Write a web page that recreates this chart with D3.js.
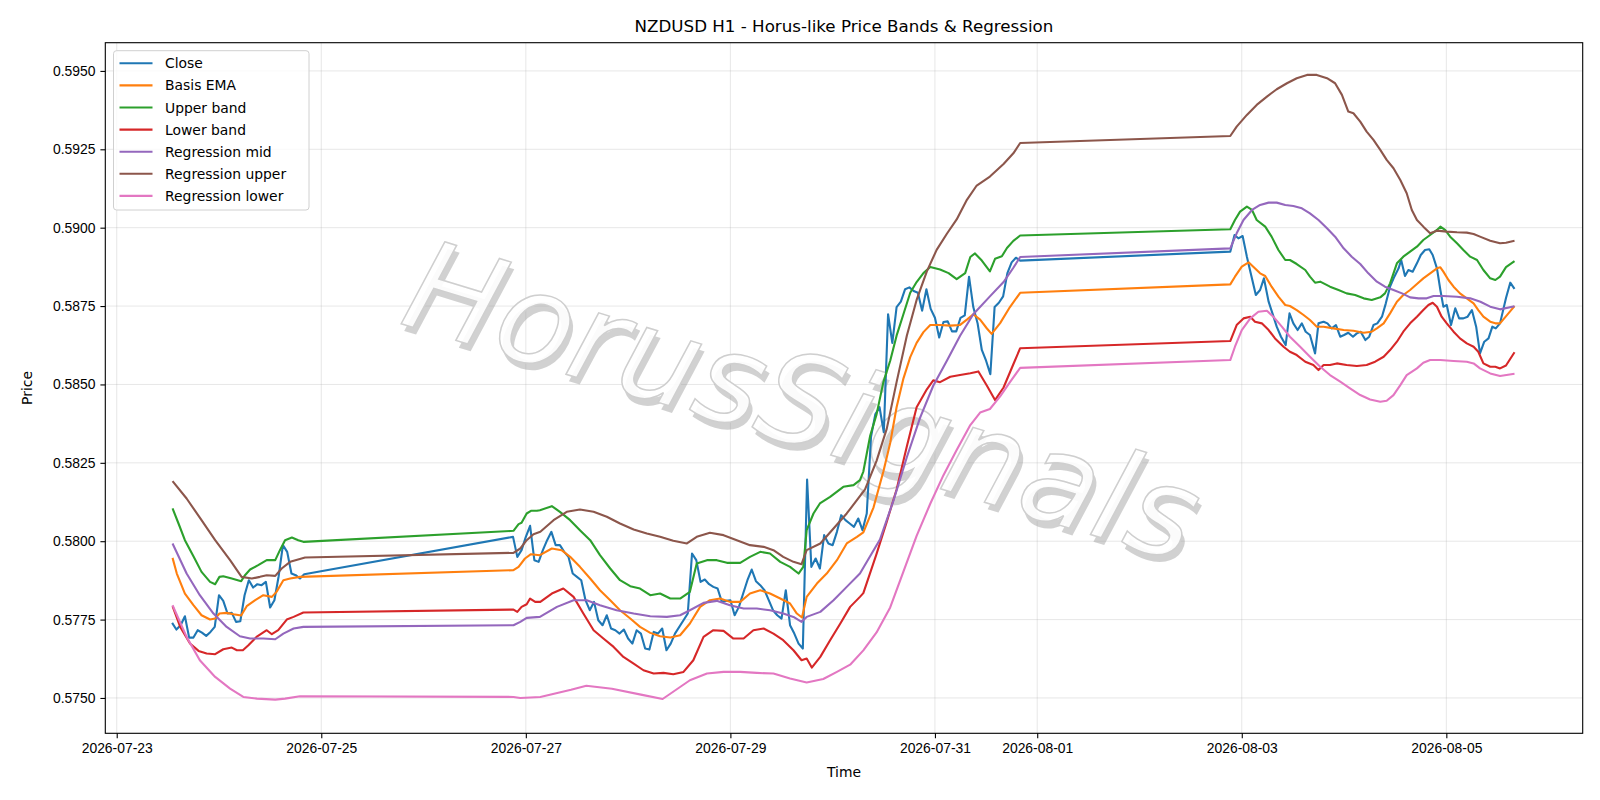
<!DOCTYPE html>
<html>
<head>
<meta charset="utf-8">
<script src="https://cdn.jsdelivr.net/npm/d3@7"></script>
<style>
  body { margin: 0; background: #fff; }
  svg { font-family: 'DejaVu Sans', sans-serif; }
  .tick text { font-size: 13.9px; fill: #000; }
</style>
</head>
<body>
<svg id="chart" width="1600" height="800"></svg>
<script>
// hours since 2026-07-23 00:00 UTC, price
const closeData = [
  [13,.577394],[14,.577182],[15,.577320],[16,.577607],[17,.576926],[18,.576926],[19,.577161],[20,.577086],
  [21,.576980],[22,.577107],[23,.577267],[24,.578277],[25,.578097],[26,.577693],[27,.577714],[28,.577427],
  [29,.577448],[30,.578277],[31,.578756],[32,.578522],[33,.578629],[34,.578597],[35,.578703],[36,.577884],
  [37,.578118],[38,.578884],[39,.579873],[40,.579661],[41,.578969],[42,.578916],[43,.578810],[44,.578948],
  [93,.580139],[94,.579501],[95,.579714],[96,.580139],[97,.580490],[98,.579395],[99,.579341],[100,.579714],
  [101,.580033],[102,.580299],[103,.579874],[104,.579874],[105,.579661],[106,.579501],[107,.578969],[108,.578863],
  [109,.578756],[110,.578118],[111,.577799],[112,.578065],[113,.577480],[114,.577320],[115,.577639],[116,.577214],
  [117,.577161],[118,.577054],[119,.577182],[120,.576895],[121,.576735],[122,.577161],[123,.577054],[124,.576576],
  [125,.576544],[126,.577107],[127,.577054],[128,.577214],[129,.576522],[130,.576735],[131,.577054],[133,.577480],
  [134,.577693],[135,.579608],[136,.579395],[137,.578703],[138,.578778],[139,.578629],[140,.578544],[141,.578490],
  [142,.578065],[143,.578097],[144,.578118],[145,.577639],[146,.577905],[147,.578331],[148,.578756],[149,.579097],
  [150,.578724],[151,.578597],[152,.578437],[153,.578118],[154,.577799],[155,.577639],[156,.577533],[157,.578437],
  [158,.577320],[159,.577054],[160,.576735],[161,.576576],[162,.581969],[163,.579182],[164,.579448],[165,.579129],
  [166,.580193],[167,.579927],[168,.579874],[169,.580299],[170,.580831],[171,.580671],[172,.580565],[173,.580459],
  [174,.580725],[175,.580352],[176,.580884],[177,.583331],[178,.584046],[179,.584274],[180,.583476],[181,.587240],
  [182,.586327],[183,.587468],[184,.587639],[185,.588038],[186,.588095],[187,.587981],[188,.587924],[189,.587354],
  [190,.588038],[191,.587411],[192,.587126],[193,.586498],[194,.586989],[195,.587012],[196,.586692],[197,.586692],
  [198,.587126],[199,.587205],[200,.588437],[201,.587468],[202,.586955],[203,.586099],[204,.585757],[205,.585324],
  [206,.587468],[207,.587605],[208,.587810],[209,.588551],[210,.588893],[211,.589042],[212,.588950],
  [261.3,.589235],[262.3,.589767],[263.2,.589661],[264.2,.589735],[265.2,.589075],[266.1,.588543],[267.3,.587852],
  [268.3,.588012],[269.2,.588384],[270.3,.587639],[271.2,.587267],[272.2,.586842],[273.2,.586522],[274.3,.586256],
  [275.2,.587267],[276.1,.586948],[277.1,.586735],[278.1,.586948],[279.0,.586682],[280.0,.586576],[281.2,.585991],
  [282.0,.586948],[283.2,.587001],[284.1,.586948],[285.1,.586788],[286.1,.586895],[287.1,.586522],[288.0,.586576],
  [289.0,.586650],[290.1,.586522],[291.0,.586629],[291.9,.586682],[293.0,.586416],[293.9,.586522],[294.9,.586895],
  [295.8,.586948],[296.9,.587161],[297.8,.587586],[298.8,.588118],[299.8,.588437],[300.8,.588703],[301.4,.588969],
  [302.3,.588458],[303.1,.588650],[304.1,.588597],[305.1,.588863],[306.0,.589129],[307.0,.589288],[308.0,.589310],
  [308.8,.589129],[309.8,.588703],[310.6,.588012],[311.3,.587480],[312.1,.587533],[313.1,.586895],[314.1,.587427],
  [315.0,.587107],[316.0,.587107],[317.0,.587161],[318.0,.587373],[319.0,.586842],[319.9,.585991],[320.9,.586363],
  [321.9,.586469],[322.8,.586842],[323.6,.586788],[324.6,.586948],[326,.587757],[327,.588246],[328,.588050]
];

const basisData = [
  [13.1,.579469],[14.1,.578969],[16.0,.578331],[18.0,.577959],[19.9,.577639],[21.9,.577501],[23.1,.577533],
  [24.1,.577693],[25.8,.577714],[27.4,.577671],[29.2,.577629],[30.5,.577927],[32.5,.578118],[34.4,.578278],
  [36.4,.578224],[37.5,.578384],[39.1,.578756],[40.7,.578810],[43.0,.578863],
  [93.1,.579075],[94.3,.579182],[95.8,.579448],[97.2,.579586],[99.3,.579554],[102.1,.579767],[104.4,.579714],
  [106.4,.579501],[108.7,.579182],[111.1,.578810],[113.4,.578437],[115.8,.578118],[118.1,.577799],[120.5,.577533],
  [122.8,.577267],[125.2,.577076],[127.5,.576969],[129.9,.576927],[132.2,.577001],[134.5,.577374],[136.9,.577905],
  [139.2,.578118],[141.6,.578171],[143.9,.578065],[146.3,.578065],[148.6,.578331],[151.0,.578437],[153.3,.578331],
  [155.7,.578171],[158.0,.578012],[159.6,.577693],[160.8,.577565],[161.9,.578224],[164.3,.578650],[166.6,.578969],
  [169.0,.579395],[171.3,.579927],[173.7,.580139],
  [175.2,.580283],[177.6,.581081],[179.9,.582221],[181.5,.583134],[183.0,.584274],[184.6,.585187],[186.2,.585871],
  [187.7,.586327],[189.3,.586669],[190.9,.586898],[193.2,.586898],[195.6,.586875],[197.9,.586898],[199.5,.587069],
  [201.0,.587240],[202.6,.587069],[204.2,.586784],[205.3,.586612],[207.3,.586955],[209.6,.587468],[212.0,.587924],
  [261.3,.588193],[262.4,.588437],[264.0,.588756],[265.6,.588895],[266.7,.588756],[268.3,.588543],[269.5,.588458],
  [271.0,.588118],[272.6,.587799],[274.2,.587533],[275.3,.587501],[276.9,.587373],[278.5,.587214],[280.0,.587054],
  [281.6,.586842],[283.2,.586842],[285.5,.586788],[287.9,.586735],[290.2,.586714],[292.6,.586650],[294.5,.586682],
  [295.7,.586788],[297.3,.586948],[298.8,.587267],[300.4,.587639],[301.9,.587852],[303.5,.588012],[305.1,.588203],
  [306.6,.588384],[308.2,.588543],[309.8,.588703],[310.6,.588735],[311.3,.588597],[312.5,.588331],[313.7,.588118],
  [315.2,.587905],[316.8,.587746],[318.4,.587586],[319.5,.587373],[320.7,.587161],[322.3,.587001],[323.5,.586948],
  [324.6,.586948],[328,.587496]
];

const upperData = [
  [13.1,.581044],[14.5,.580565],[16.0,.580033],[18.0,.579522],[19.9,.579022],[21.9,.578703],[23.1,.578629],
  [24.1,.578863],[25.0,.578884],[27.0,.578810],[29.2,.578725],[30.1,.578916],[31.3,.579097],[33.2,.579235],
  [35.2,.579395],[37.2,.579395],[38.3,.579714],[39.5,.580033],[41.1,.580118],[42.6,.580033],[43.8,.579980],
  [93.1,.580331],[94.3,.580544],[95.0,.580586],[96.2,.580884],[97.2,.580969],[98.6,.580969],[99.3,.580990],
  [102.1,.581118],[104.0,.580937],[106.4,.580671],[108.7,.580352],[111.1,.580033],[113.4,.579554],[115.8,.579129],
  [118.1,.578756],[120.5,.578565],[122.8,.578490],[125.2,.578278],[127.5,.578331],[129.9,.578171],[132.2,.578171],
  [134.5,.578384],[136.1,.579288],[138.5,.579395],[140.8,.579395],[143.2,.579310],[146.3,.579310],[148.6,.579501],
  [151.0,.579661],[153.3,.579608],[155.7,.579342],[158.0,.579182],[160.0,.578969],[161.1,.579182],[161.9,.580352],
  [163.5,.580884],[165.0,.581203],[167.4,.581416],[170.5,.581735],[172.9,.581788],[174.4,.581948],
  [175.2,.582221],[176.8,.583362],[178.3,.584046],[179.9,.585073],[181.5,.585757],[183.0,.586555],[184.6,.587240],
  [186.2,.587924],[187.7,.588266],[189.3,.588551],[190.9,.588745],[193.2,.588665],[195.2,.588551],[197.1,.588357],
  [199.1,.588551],[200.3,.589065],[201.4,.589178],[203.0,.588950],[204.9,.588608],[206.1,.589007],[207.7,.589087],
  [208.9,.589350],[210.4,.589578],[212.0,.589749],
  [261.3,.589948],[262.4,.590246],[263.6,.590512],[265.2,.590671],[266.4,.590565],[267.5,.590246],[269.5,.590033],
  [271.0,.589714],[272.6,.589288],[274.2,.588969],[275.3,.588969],[276.9,.588841],[278.9,.588650],[280.0,.588437],
  [281.2,.588246],[282.4,.588278],[284.7,.588118],[286.7,.588012],[288.6,.587905],[290.6,.587852],[292.6,.587746],
  [294.5,.587693],[296.5,.587778],[297.6,.587905],[298.8,.588224],[300.4,.588863],[301.9,.589075],[303.5,.589235],
  [305.1,.589395],[306.6,.589607],[308.2,.589767],[309.8,.589927],[310.6,.590033],[311.7,.589927],[312.9,.589714],
  [314.5,.589501],[316.0,.589288],[317.6,.589075],[319.2,.588969],[320.7,.588650],[322.3,.588384],[323.5,.588331],
  [324.6,.588437],[326,.588740],[328,.588930]
];

const lowerData = [
  [13.1,.577926],[14.9,.577267],[17.2,.576735],[19.2,.576501],[21.1,.576416],[23.1,.576395],[25.0,.576554],
  [27.0,.576607],[28.2,.576522],[29.6,.576522],[30.9,.576682],[32.8,.576948],[35.2,.577161],[36.4,.577033],
  [37.9,.577161],[39.9,.577501],[41.5,.577586],[43.8,.577724],
  [93.1,.577820],[94.0,.577746],[95.0,.577905],[96.2,.577990],[97.0,.578171],[98.2,.578065],[99.4,.578065],
  [102.1,.578331],[104.8,.578490],[107.2,.578224],[109.5,.577693],[111.9,.577161],[114.2,.576895],[116.6,.576629],
  [118.9,.576310],[121.3,.576097],[123.6,.575884],[126.0,.575778],[128.3,.575799],[130.6,.575756],[133.0,.575831],
  [135.3,.576203],[137.7,.576948],[140.0,.577161],[142.4,.577139],[144.7,.576895],[147.1,.576895],[149.4,.577161],
  [151.8,.577214],[154.1,.577054],[156.4,.576842],[158.8,.576522],[160.7,.576203],[161.9,.576256],[163.1,.575969],
  [165.1,.576310],[167.4,.576842],[169.8,.577374],[172.1,.577905],[174.4,.578224],
  [175.2,.578344],[178.3,.579598],[180.7,.580625],[183.0,.581651],[185.4,.583017],[187.7,.584274],[190.1,.584844],
  [191.6,.585130],[193.2,.585073],[195.6,.585244],[197.9,.585301],[200.3,.585358],[202.2,.585415],[204.2,.584959],
  [206.1,.584502],[208.1,.584902],[210.4,.585643],[212.0,.586156],
  [261.3,.586384],[262.8,.586895],[264.4,.587107],[266.0,.587161],[267.1,.587001],[268.7,.586948],[270.3,.586735],
  [271.8,.586469],[273.8,.586203],[275.3,.586044],[276.9,.585937],[278.9,.585725],[280.8,.585618],[282.0,.585459],
  [283.2,.585618],[284.7,.585618],[286.3,.585671],[288.6,.585618],[291.0,.585586],[293.3,.585618],[295.3,.585725],
  [297.3,.585884],[298.8,.586097],[300.4,.586363],[301.9,.586682],[303.5,.586948],[305.1,.587161],[306.6,.587373],
  [307.8,.587533],[308.8,.587607],[309.8,.587480],[310.9,.587161],[312.1,.586948],[313.7,.586682],[315.2,.586469],
  [316.8,.586309],[318.4,.586203],[319.5,.586044],[320.7,.585671],[322.3,.585565],[323.5,.585565],[324.6,.585512],
  [326,.585604],[328,.586028]
];

const regMidData = [
  [13.1,.579926],[16.4,.578969],[19.5,.578278],[22.7,.577693],[25.8,.577267],[28.9,.576969],[31.3,.576895],
  [34.4,.576895],[37.2,.576873],[39.1,.577054],[41.5,.577214],[43.8,.577267],
  [93.1,.577320],[94.7,.577427],[96.2,.577554],[99.3,.577586],[103.3,.577905],[107.2,.578118],[110.3,.578118],
  [113.4,.577959],[117.3,.577799],[121.3,.577693],[125.2,.577608],[129.1,.577586],[132.2,.577639],[134.5,.577799],
  [137.7,.578033],[140.8,.578097],[143.9,.577959],[147.1,.577852],[150.2,.577852],[153.3,.577799],[156.4,.577693],
  [158.8,.577586],[160.7,.577427],[161.9,.577586],[165.1,.577746],[168.2,.578118],[171.3,.578543],[174.4,.578969],
  [179.1,.580055],[182.3,.581309],[185.4,.582678],[188.5,.583932],[191.6,.584959],[194.8,.585757],[197.9,.586555],
  [201.0,.587240],[204.9,.587810],[208.1,.588266],[210.4,.588722],[212.0,.589065],
  [261.3,.589341],[262.8,.589820],[264.4,.590246],[266.4,.590565],[268.3,.590724],[270.3,.590799],[272.2,.590799],
  [274.2,.590724],[276.1,.590692],[278.1,.590618],[280.0,.590458],[282.0,.590246],[284.0,.589980],[285.9,.589714],
  [287.9,.589341],[289.8,.589075],[291.8,.588841],[293.7,.588543],[295.7,.588278],[297.6,.588118],[299.6,.588012],
  [301.6,.587905],[303.5,.587778],[305.5,.587746],[307.4,.587746],[309.0,.587820],[311.3,.587820],[314.5,.587799],
  [317.6,.587746],[320.0,.587639],[322.3,.587480],[324.6,.587395],[328,.587496]
];

const regUpperData = [
  [13.1,.581916],[16.4,.581363],[19.9,.580671],[23.1,.580033],[26.6,.579395],[29.3,.578863],[31.7,.578810],
  [33.6,.578863],[35.2,.578916],[37.2,.578895],[38.7,.579129],[40.7,.579341],[44.2,.579480],
  [93.1,.579629],[94.7,.579767],[96.2,.580033],[97.8,.580224],[99.4,.580299],[102.5,.580671],[105.6,.580937],
  [108.7,.581012],[111.9,.580937],[115.0,.580778],[118.1,.580565],[121.3,.580374],[124.4,.580246],[127.5,.580139],
  [130.6,.580012],[133.8,.579927],[136.1,.580139],[139.2,.580267],[142.4,.580193],[145.5,.580033],[148.6,.579874],
  [151.8,.579820],[154.1,.579714],[156.4,.579501],[158.8,.579342],[160.7,.579267],[161.9,.579714],[165.1,.579927],
  [168.2,.580405],[171.3,.580884],
  [175.6,.581651],[178.3,.582564],[180.7,.583590],[183.0,.585073],[185.4,.586555],[187.7,.587696],[190.1,.588608],
  [192.4,.589293],[194.8,.589806],[197.1,.590262],[199.5,.590889],[201.8,.591345],[204.9,.591631],[208.1,.592030],
  [210.4,.592372],[212.0,.592700],
  [261.3,.592925],[262.8,.593224],[265.2,.593597],[267.5,.593916],[269.9,.594182],[272.2,.594416],[274.6,.594607],
  [276.9,.594767],[279.3,.594873],[281.6,.594873],[284.0,.594767],[285.9,.594607],[287.5,.594235],[289.0,.593703],
  [290.2,.593650],[291.8,.593384],[293.3,.593065],[294.9,.592799],[296.5,.592480],[298.0,.592161],[299.6,.591895],
  [301.2,.591522],[302.7,.591097],[303.9,.590565],[305.1,.590246],[306.6,.590033],[308.2,.589820],[309.8,.589905],
  [312.1,.589873],[314.5,.589852],[316.8,.589842],[318.4,.589799],[319.9,.589714],[322.3,.589586],[324.6,.589501],
  [326,.589519],[328,.589584]
];

const regLowerData = [
  [13.1,.577958],[16.4,.576948],[19.5,.576203],[23.1,.575671],[26.6,.575299],[29.7,.575033],[32.9,.574980],
  [37.2,.574948],[39.5,.574980],[43.0,.575054],
  [93.1,.575033],[94.7,.575001],[99.4,.575033],[106.6,.575261],[110.2,.575391],[116.2,.575294],[123.3,.575098],
  [128.1,.574967],[134.5,.575565],[138.5,.575778],[142.4,.575831],[146.3,.575831],[150.2,.575799],[154.1,.575778],
  [158.0,.575618],[161.9,.575493],[165.8,.575606],[169.0,.575834],[172.1,.576062],[175.2,.576519],[178.3,.577089],
  [181.5,.577888],[184.6,.579028],[187.7,.580169],[190.9,.581195],[194.0,.582107],[197.1,.582906],[200.3,.583704],
  [202.6,.584103],[204.9,.584217],[207.3,.584617],[209.6,.585073],[212.0,.585529],
  [261.3,.585778],[262.4,.586203],[264.0,.586735],[266.0,.587107],[267.9,.587320],[269.9,.587352],[271.4,.587161],
  [273.4,.586842],[275.3,.586522],[277.7,.586203],[280.0,.585884],[282.4,.585565],[284.7,.585299],[287.1,.585086],
  [289.4,.584873],[291.8,.584661],[294.1,.584522],[296.5,.584448],[298.0,.584480],[299.6,.584661],[301.2,.584980],
  [302.7,.585299],[305.1,.585512],[306.6,.585692],[308.2,.585778],[310.6,.585778],[313.7,.585747],[316.8,.585725],
  [318.4,.585671],[319.9,.585512],[322.3,.585352],[324.6,.585267],[328,.585342]
];

const seriesNames = ['Close', 'Basis EMA', 'Upper band', 'Lower band', 'Regression mid', 'Regression upper', 'Regression lower'];
const seriesData = [closeData, basisData, upperData, lowerData, regMidData, regUpperData, regLowerData];
const seriesColors = ['#1f77b4', '#ff7f0e', '#2ca02c', '#d62728', '#9467bd', '#8c564b', '#e377c2'];
const xTickDates = ['2026-07-23', '2026-07-25', '2026-07-27', '2026-07-29', '2026-07-31', '2026-08-01', '2026-08-03', '2026-08-05'];
const yTicks = [0.5750, 0.5775, 0.5800, 0.5825, 0.5850, 0.5875, 0.5900, 0.5925, 0.5950];

const t0 = Date.UTC(2026, 6, 23);
const toDate = h => new Date(t0 + h * 3600e3);

const margin = { left: 105.3, right: 1582.7, top: 42.7, bottom: 733.3 };
const svg = d3.select('#chart');

const x = d3.scaleUtc()
  .domain([toDate(-2.68), toDate(344.0)])
  .range([margin.left, margin.right]);
const y = d3.scaleLinear()
  .domain([0.573873, 0.59590])
  .range([margin.bottom, margin.top]);

// grid
const grid = svg.append('g');
xTickDates.forEach(d => {
  const xx = x(new Date(d + 'T00:00:00Z'));
  grid.append('line').attr('x1', xx).attr('x2', xx).attr('y1', margin.top).attr('y2', margin.bottom)
    .attr('stroke', '#b0b0b0').attr('stroke-opacity', 0.3).attr('stroke-width', 1);
});
yTicks.forEach(v => {
  grid.append('line').attr('x1', margin.left).attr('x2', margin.right).attr('y1', y(v)).attr('y2', y(v))
    .attr('stroke', '#b0b0b0').attr('stroke-opacity', 0.3).attr('stroke-width', 1);
});

// watermark
const wm = svg.append('g').attr('transform', 'translate(800,410) rotate(17)');
wm.append('text').attr('x', 5).attr('y', 6)
  .attr('text-anchor', 'middle').attr('dominant-baseline', 'middle')
  .attr('font-size', 125).attr('font-style', 'italic').attr('textLength', 820)
  .attr('fill', '#9a9a9a').attr('fill-opacity', 0.45)
  .text('HorusSignals');
wm.append('text')
  .attr('text-anchor', 'middle').attr('dominant-baseline', 'middle')
  .attr('font-size', 125).attr('font-style', 'italic').attr('textLength', 820)
  .attr('fill', '#ffffff').attr('fill-opacity', 0.9)
  .attr('stroke', '#cfcfcf').attr('stroke-width', 1.5)
  .text('HorusSignals');

// lines
const line = d3.line().x(d => x(toDate(d[0]))).y(d => y(d[1]));
seriesData.forEach((data, i) => {
  svg.append('path').datum(data)
    .attr('fill', 'none')
    .attr('stroke', seriesColors[i])
    .attr('stroke-width', 2.1)
    .attr('stroke-linejoin', 'round')
    .attr('d', line);
});

// axes
const xAxis = svg.append('g')
  .attr('transform', `translate(0,${margin.bottom})`)
  .call(d3.axisBottom(x)
    .tickValues(xTickDates.map(d => new Date(d + 'T00:00:00Z')))
    .tickFormat(d3.utcFormat('%Y-%m-%d'))
    .tickSize(4.9).tickPadding(4.9));
const yAxis = svg.append('g')
  .attr('transform', `translate(${margin.left},0)`)
  .call(d3.axisLeft(y).tickValues(yTicks).tickFormat(d3.format('.4f')).tickSize(4.9).tickPadding(4.9));
[xAxis, yAxis].forEach(a => {
  a.select('.domain').remove();
  a.selectAll('.tick line').attr('stroke', '#000').attr('stroke-width', 1.1);
});

svg.append('rect')
  .attr('x', margin.left).attr('y', margin.top)
  .attr('width', margin.right - margin.left).attr('height', margin.bottom - margin.top)
  .attr('fill', 'none').attr('stroke', '#000').attr('stroke-width', 1.1);

// labels
svg.append('text').attr('x', (margin.left + margin.right) / 2).attr('y', 32)
  .attr('text-anchor', 'middle').attr('font-size', 16.7).text('NZDUSD H1 - Horus-like Price Bands & Regression');
svg.append('text').attr('x', (margin.left + margin.right) / 2).attr('y', 777)
  .attr('text-anchor', 'middle').attr('font-size', 13.9).text('Time');
svg.append('text').attr('transform', `translate(32,${(margin.top + margin.bottom) / 2}) rotate(-90)`)
  .attr('text-anchor', 'middle').attr('font-size', 13.9).text('Price');

// legend
const lg = svg.append('g');
lg.append('rect').attr('x', 113.5).attr('y', 50.7).attr('width', 195.5).attr('height', 159.3).attr('rx', 3)
  .attr('fill', '#fff').attr('fill-opacity', 0.8).attr('stroke', '#d0d0d0').attr('stroke-width', 1);
seriesNames.forEach((name, i) => {
  const yy = 63.3 + i * 22.1;
  lg.append('line').attr('x1', 119.5).attr('x2', 152.5).attr('y1', yy).attr('y2', yy)
    .attr('stroke', seriesColors[i]).attr('stroke-width', 2.1);
  lg.append('text').attr('x', 165).attr('y', yy).attr('dy', '0.36em').attr('font-size', 13.9).text(name);
});
</script>
</body>
</html>
